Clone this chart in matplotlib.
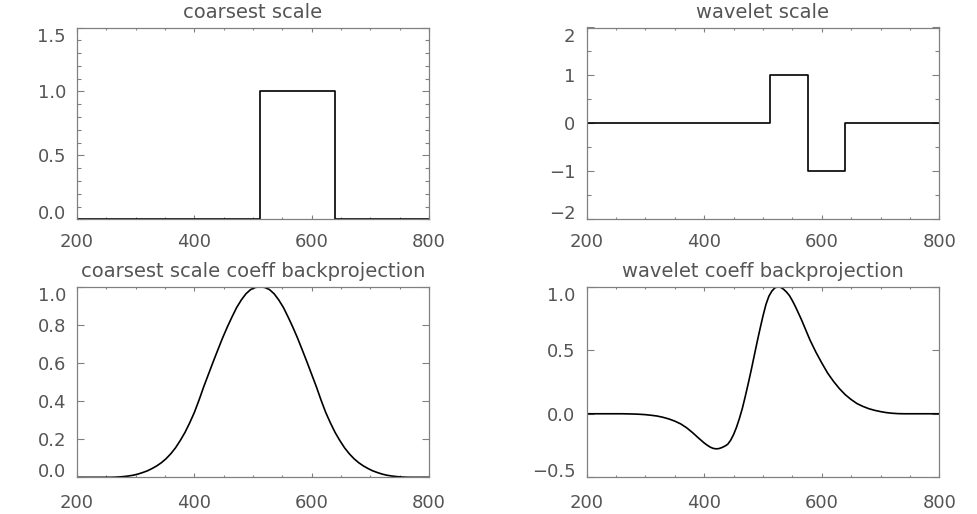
import matplotlib
matplotlib.use("Agg")
import matplotlib.pyplot as plt
from matplotlib.ticker import MultipleLocator

# step functions (edges, value held until next edge)
coarse_x = [200, 512, 640, 800]
coarse_y = [0, 1, 0, 0]
wave_x = [200, 512, 576, 640, 800]
wave_y = [0, 1, -1, 0, 0]

# coarsest scale coefficient backprojection
bp_coarse_x = [200] + list(range(256, 769, 8)) + [800]
bp_coarse_y = [0.0,
               0.0, 0.0005, 0.002, 0.004, 0.007, 0.011, 0.017, 0.025,
               0.034, 0.046, 0.06, 0.077, 0.098, 0.124, 0.155, 0.193,
               0.235, 0.285, 0.34, 0.405, 0.475, 0.54, 0.605, 0.668,
               0.73, 0.787, 0.84, 0.89, 0.93, 0.963, 0.985, 0.996,
               1.0,
               0.996, 0.985, 0.963, 0.93, 0.89, 0.84, 0.787, 0.73,
               0.668, 0.605, 0.54, 0.475, 0.405, 0.34, 0.285, 0.235,
               0.193, 0.155, 0.124, 0.098, 0.077, 0.06, 0.046, 0.034,
               0.025, 0.017, 0.011, 0.007, 0.004, 0.002, 0.0005, 0.0,
               0.0]

# wavelet coefficient backprojection
bp_wave_x = [200, 250, 260, 270, 280, 290, 300, 310, 320, 330, 340, 350, 360,
             370, 380, 390, 400, 405, 410, 415, 420, 425, 430, 435, 440, 445,
             450, 455, 460, 465, 470, 475, 480, 485, 490, 495, 500, 505, 510,
             515, 520, 525, 530, 535, 540, 545, 550, 555, 560, 565, 570, 575,
             580, 590, 600, 610, 620, 630, 640, 650, 660, 670, 680, 690, 700,
             710, 720, 730, 740, 800]
bp_wave_y = [0.0, 0.0, 0.0, -0.001, -0.002, -0.004, -0.007, -0.012, -0.018,
             -0.028, -0.041, -0.058, -0.08, -0.11, -0.148, -0.19, -0.23,
             -0.247, -0.262, -0.272, -0.276, -0.274, -0.266, -0.255, -0.24,
             -0.208, -0.163, -0.105, -0.035, 0.045, 0.14, 0.24, 0.345, 0.455,
             0.565, 0.67, 0.77, 0.86, 0.925, 0.965, 0.99, 1.0, 0.995, 0.98,
             0.958, 0.93, 0.89, 0.845, 0.795, 0.745, 0.69, 0.635, 0.58, 0.485,
             0.40, 0.32, 0.255, 0.198, 0.15, 0.112, 0.08, 0.058, 0.04, 0.027,
             0.017, 0.009, 0.004, 0.001, 0.0, 0.0]

txt = "#555555"
plt.rcParams["font.family"] = ["DejaVu Sans"]
plt.rcParams["axes.edgecolor"] = "#808080"
plt.rcParams["axes.linewidth"] = 0.9

fig = plt.figure(figsize=(9.77, 5.14), dpi=100)

W, H = 977, 514
def box(l, r, t, b):
    return [l / W, 1 - b / H, (r - l) / W, (b - t) / H]

ax1 = fig.add_axes(box(77, 429, 27.5, 219.3))
ax2 = fig.add_axes(box(586.7, 939.3, 27.5, 219.3))
ax3 = fig.add_axes(box(77, 429, 286.7, 477.3))
ax4 = fig.add_axes(box(586.7, 939.3, 286.7, 477.3))

ax1.plot(coarse_x, coarse_y, drawstyle="steps-post", color="black", lw=1.2)
ax2.plot(wave_x, wave_y, drawstyle="steps-post", color="black", lw=1.2)
ax3.plot(bp_coarse_x, bp_coarse_y, color="black", lw=1.2)
ax4.plot(bp_wave_x, bp_wave_y, color="black", lw=1.2)

ax1.set_ylim(0, 1.5)
ax1.set_yticks([0, 0.5, 1.0, 1.5])
ax1.yaxis.set_minor_locator(MultipleLocator(0.1))
ax2.set_ylim(-2, 2)
ax2.set_yticks([-2, -1, 0, 1, 2])
ax2.yaxis.set_minor_locator(MultipleLocator(0.5))
ax3.set_ylim(0, 1.0)
ax3.set_yticks([0, 0.2, 0.4, 0.6, 0.8, 1.0])
ax4.set_ylim(-0.5, 1.0)
ax4.set_yticks([-0.5, 0, 0.5, 1.0])

ax1.set_yticklabels(["0.0", "0.5", "1.0", "1.5"])
ax2.set_yticklabels(["\u22122", "\u22121", "0", "1", "2"])
ax3.set_yticklabels(["0.0", "0.2", "0.4", "0.6", "0.8", "1.0"])
ax4.set_yticklabels(["\u22120.5", "0.0", "0.5", "1.0"])

titles = ["coarsest scale", "wavelet scale",
          "coarsest scale coeff backprojection", "wavelet coeff backprojection"]
xpads = [10, 10, 12, 12]
for ax, title, xp in zip([ax1, ax2, ax3, ax4], titles, xpads):
    ax.set_xlim(200, 800)
    ax.set_xticks([200, 400, 600, 800])
    ax.xaxis.set_minor_locator(MultipleLocator(50))
    ax.tick_params(axis="both", which="both", direction="in", top=True,
                   right=True, colors="#808080", labelcolor=txt, labelsize=13)
    ax.tick_params(axis="y", which="major", length=5, width=0.8, pad=8)
    ax.tick_params(axis="y", which="minor", length=2.6, width=0.8)
    ax.tick_params(axis="x", which="major", length=2.9, width=0.8, pad=xp)
    ax.tick_params(axis="x", which="minor", length=1.5, width=0.8)
    ax.set_title(title, fontsize=14, color=txt, pad=7)
    # end labels sit just inside the axis range, as in the original
    ylabels = ax.get_yticklabels()
    ylabels[0].set_va("baseline")
    ylabels[-1].set_va("top")

fig.savefig("out.png", dpi=100)
